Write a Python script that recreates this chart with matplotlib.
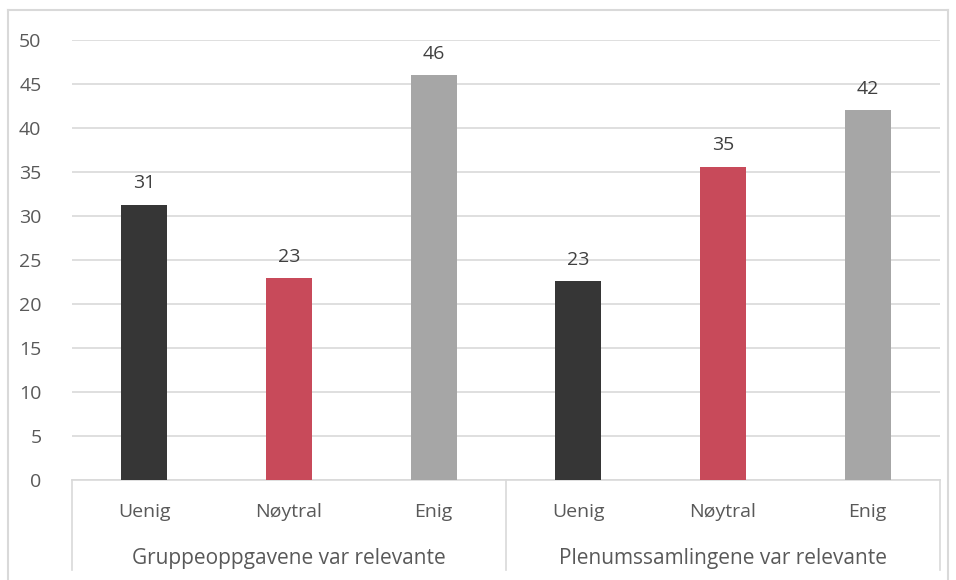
import matplotlib.pyplot as plt
from matplotlib.lines import Line2D
import matplotlib.transforms as mtransforms

plt.rcParams['font.family'] = ['Open Sans', 'DejaVu Sans']

groups = ["Gruppeoppgavene var relevante", "Plenumssamlingene var relevante"]
categories = ["Uenig", "Nøytral", "Enig"]
values = [31.25, 22.95, 46.0, 22.6, 35.6, 42.0]
labels = ["31", "23", "46", "23", "35", "42"]
colors = ["#363636", "#c84a5a", "#a6a6a6"]

fig = plt.figure(figsize=(9.56, 5.8), dpi=100)
ax = fig.add_axes([72/956, 100/580, 868/956, 440/580])

x = list(range(len(values)))
bar_colors = [colors[i % 3] for i in x]
bars = ax.bar(x, values, width=0.32, color=bar_colors, zorder=3)
for b, lab in zip(bars, labels):
    ax.annotate(lab, (b.get_x() + b.get_width()/2, b.get_height()),
                xytext=(0, 9), textcoords='offset points',
                ha='center', va='bottom', fontsize=14, color='#404040')

ax.set_xlim(-0.5, len(values) - 0.5)
ax.set_ylim(0, 50)
ax.set_yticks(range(0, 51, 5))
ax.yaxis.grid(True, color='#d9d9d9', linewidth=1.2)
ax.set_axisbelow(True)
ax.tick_params(axis='y', length=0, labelsize=14, labelcolor='#595959', pad=22)
ax.set_xticks([])
for s in ['top', 'right', 'left']:
    ax.spines[s].set_visible(False)
ax.spines['bottom'].set_color('#d9d9d9')
ax.spines['bottom'].set_linewidth(1.2)

# multi-level category axis
tr = mtransforms.blended_transform_factory(ax.transData, ax.transAxes)
for i in x:
    ax.text(i, -0.072, categories[i % 3], transform=tr, ha='center', va='center',
            fontsize=14, color='#595959')
for g, name in enumerate(groups):
    ax.text(g*3 + 1, -0.178, name, transform=tr, ha='center', va='center',
            fontsize=15, color='#595959')
for xb in [-0.5, 2.5, 5.5]:
    ax.plot([xb, xb], [0, -0.205], transform=tr, color='#d9d9d9',
            linewidth=1.2, clip_on=False)

# chart border
bc = '#d9d9d9'
L, R, T = 8/956, 948/956, 1 - 10/580
fig.add_artist(Line2D([L, L], [0, T], color=bc, linewidth=1.5))
fig.add_artist(Line2D([L, R], [T, T], color=bc, linewidth=1.5))
fig.add_artist(Line2D([R, R], [0, T], color=bc, linewidth=1.5))

fig.savefig("out.png", dpi=100)
